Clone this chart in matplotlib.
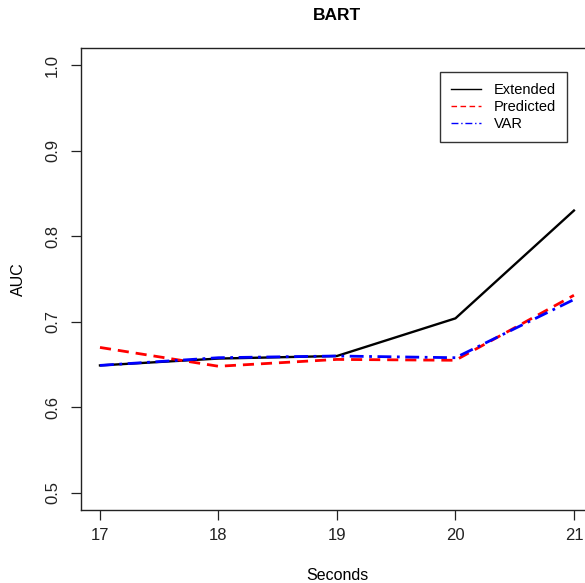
import matplotlib.pyplot as plt

# data
seconds = [17, 18, 19, 20, 21]
extended = [0.649, 0.657, 0.660, 0.704, 0.830]
predicted = [0.670, 0.648, 0.656, 0.655, 0.731]
var = [0.649, 0.658, 0.660, 0.658, 0.726]

plt.rcParams['font.family'] = ['Liberation Sans', 'DejaVu Sans']

fig = plt.figure(figsize=(5.85, 5.83), dpi=100)
# R style plot region, right edge falls outside the picture
ax = fig.add_axes([0.1385, 0.1252, 0.875, 0.7925])

ax.plot(seconds, extended, color='black', lw=1.7, label='Extended')
ax.plot(seconds, predicted, color='red', lw=2, ls=(0, (4, 2.5)), label='Predicted')
ax.plot(seconds, var, color='blue', lw=2, ls=(0, (5, 2, 1, 2)), label='VAR')

ax.set_xlim(16.84, 21.16)
ax.set_ylim(0.48, 1.02)
ax.set_xticks(seconds)
ax.set_yticks([0.5, 0.6, 0.7, 0.8, 0.9, 1.0])
ax.set_yticklabels(['0.5', '0.6', '0.7', '0.8', '0.9', '1.0'], rotation=90, va='center')
ax.tick_params(direction='out', length=7, width=0.9, labelsize=12, pad=6, colors='#222222')
ax.tick_params(axis='y', pad=8)
for s in ax.spines.values():
    s.set_linewidth(1.0)
    s.set_color('#222222')

ax.set_xlabel('Seconds', fontsize=11.5, labelpad=18)
ax.set_ylabel('AUC', fontsize=11.5, labelpad=14)
fig.text(0.5 * (81 + 593) / 585, 1 - 15 / 583, 'BART', ha='center', va='center',
         fontsize=12.5, fontweight='bold')

leg = ax.legend(loc='upper right', bbox_to_anchor=(567 / 585, 1 - 72 / 583),
                bbox_transform=fig.transFigure, fancybox=False, framealpha=1,
                edgecolor='#333333', fontsize=10.5, handlelength=2.05,
                labelspacing=0.22, borderaxespad=0, borderpad=0.75,
                handletextpad=0.9)
leg.get_frame().set_linewidth(1.0)
for line in leg.get_lines():
    line.set_linewidth(1.0)

fig.savefig('out.png', dpi=100)
